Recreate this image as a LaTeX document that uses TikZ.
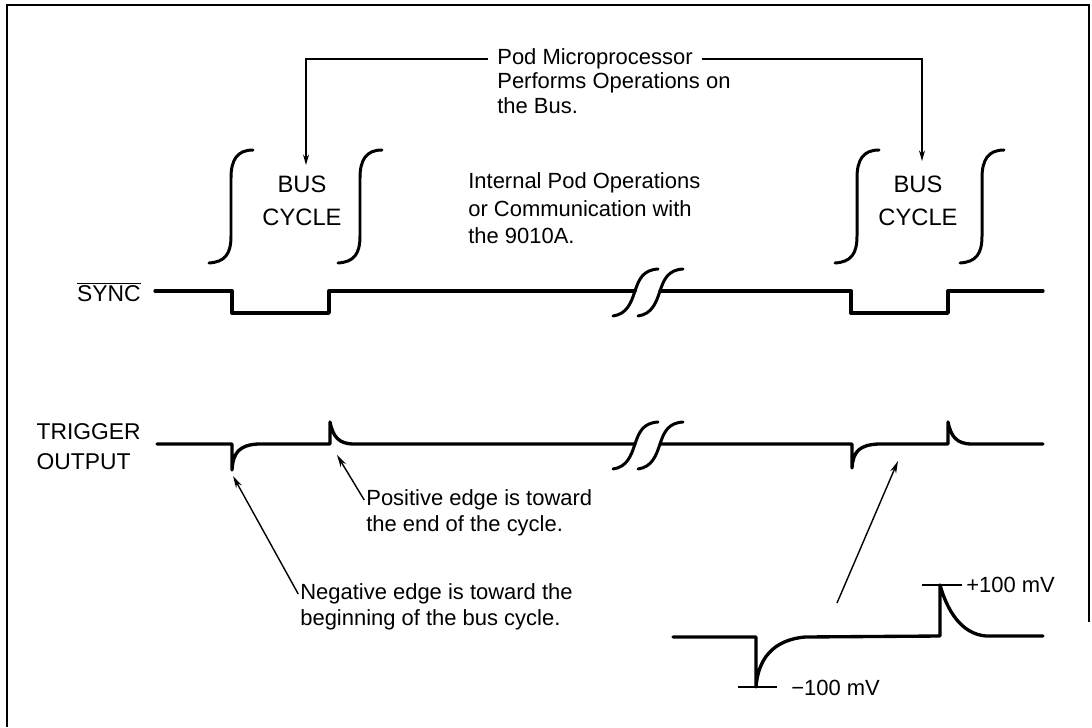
\documentclass[tikz,border=0pt]{standalone}
\usepackage{fontspec}
\setmainfont{Liberation Sans}
\usetikzlibrary{arrows.meta, positioning}

\begin{document}
\begin{tikzpicture}[
    x=0.02cm, y=-0.02cm,
    wave/.style={line width=1.9pt, line join=round, line cap=round},
    integral/.style={line width=1.7pt, line cap=round},
    pointer/.style={line width=0.8pt, -{Stealth[length=7pt, width=3.6pt]}},
    scalemark/.style={line width=0.6pt},
    sig/.style={font=\fontsize{13}{17}\selectfont, inner sep=0pt, align=left},
    note/.style={font=\fontsize{12.5}{15.8}\selectfont, inner sep=0pt, align=left},
    cyclelabel/.style={font=\fontsize{13.5}{18.5}\selectfont, inner sep=0pt, align=center}
]
    \useasboundingbox (0,0) rectangle (1092,727);
    % Frame (open at the bottom)
    \draw[line width=1.1pt] (7,727) -- (7,5) -- (1089,5) -- (1089,622);

    % Bus cycle brackets
    \foreach \bx in {231,360,857,982}
        \draw[integral] (\bx+22,150) .. controls (\bx+6,150) and (\bx,160) .. (\bx,178)
            -- (\bx,236) .. controls (\bx,254) and (\bx-6,262) .. (\bx-22,263);
    \node[cyclelabel] (busL) at (302,201) {BUS\\CYCLE};
    \node[cyclelabel] (busR) at (918,201) {BUS\\CYCLE};

    % Top annotation
    \node[note, anchor=west] (pod) at (497,59) {Pod Microprocessor};
    \node[note, font=\fontsize{12.5}{14}\selectfont, below=1.5pt of pod.south west, anchor=north west] (perform) {Performs Operations on\\the Bus.};
    \coordinate (tipL) at (306,165);
    \coordinate (tipR) at (922,161);
    \draw[pointer, -{Stealth[length=6pt, width=3.4pt]}] ([xshift=-5pt]pod.west) -| (tipL);
    \draw[pointer, -{Stealth[length=6pt, width=3.4pt]}] ([xshift=5pt]pod.east) -| (tipR);

    \node[note, anchor=north west] (internal) at (468,172) {Internal Pod Operations\\or Communication with\\the 9010A.};

    % Signal names
    \node[sig, anchor=east] (sync) at (141,292) {$\overline{\mbox{SYNC}}$};
    \node[sig, anchor=east] (trigger) at (141,447) {TRIGGER\\OUTPUT};

    % SYNC waveform
    \draw[wave] (155,291) -- (232,291) -- (232,313) -- (329,313) -- (329,291) -- (635,291);
    \draw[wave] (660,291) -- (851,291) -- (851,313) -- (948,313) -- (948,291) -- (1043,291);

    % TRIGGER OUTPUT waveform
    \draw[wave] (157,444) -- (232,444) -- (232,470) .. controls (233,452) and (240,445) .. (258,444)
        -- (330,444) -- (330,422) .. controls (333,437) and (339,444) .. (354,444) -- (635,444);
    \draw[wave] (660,444) -- (852,444) -- (852,468) .. controls (853,451) and (860,445) .. (878,444)
        -- (948,444) -- (948,422) .. controls (951,437) and (957,444) .. (972,444) -- (1043,444);

    % Time breaks
    \foreach \sx/\sy in {635/291, 660/291, 635/444, 660/444}
        \draw[integral] (\sx-22,\sy+25) .. controls (\sx-8,\sy+23) and (\sx-4,\sy+12) .. (\sx,\sy)
            .. controls (\sx+4,\sy-12) and (\sx+8,\sy-21) .. (\sx+23,\sy-22);

    % Edge notes
    \coordinate (postip) at (337,455);
    \coordinate (negtip) at (233,476);
    \node[note, anchor=west] (positive) at (366,500) {Positive edge is toward};
    \node[note, below=2.5pt of positive.south west, anchor=north west] (posend) {the end of the cycle.};
    \draw[pointer] ([xshift=-1pt]positive.west) -- (postip);
    \node[note, anchor=west] (negative) at (300,594) {Negative edge is toward the};
    \node[note, below=2.5pt of negative.south west, anchor=north west] (negend) {beginning of the bus cycle.};
    \draw[pointer] ([xshift=-1pt]negative.west) -- (negtip);

    % Enlarged pulse pair
    \draw[wave] (673,637) -- (756,637) -- (756,687) .. controls (758,660) and (772,640) .. (805,637)
        -- (940,636) -- (940,585) .. controls (947,610) and (961,634) .. (986,636) -- (1043,636);
    \draw[scalemark] (738,687) -- (777,687);
    \draw[scalemark] (922,585) -- (962,585);
    \node[note, anchor=west] (minus) at (791,688) {−100 mV};
    \node[note, anchor=west] (plus) at (966,585) {+100 mV};
    \coordinate (risefoot) at (837,603);
    \coordinate (risetip) at (898,461);
    \draw[pointer] (risefoot) -- (risetip);
\end{tikzpicture}
\end{document}
